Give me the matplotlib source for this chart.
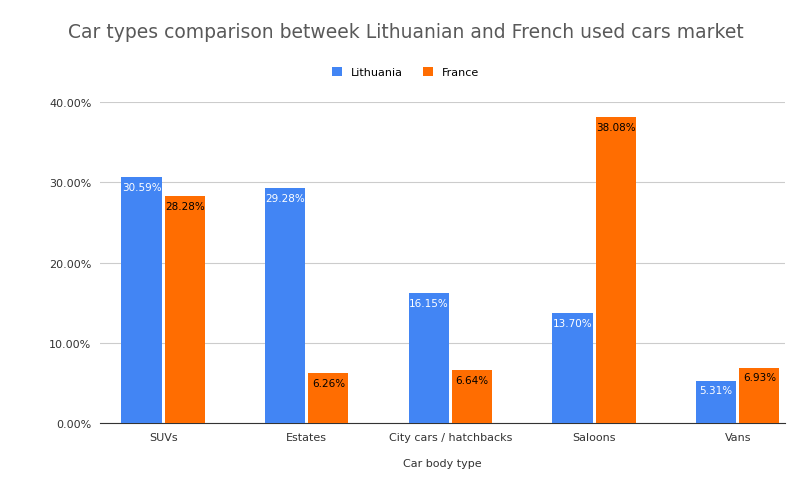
import matplotlib.pyplot as plt
import numpy as np

categories = ["SUVs", "Estates", "City cars / hatchbacks", "Saloons", "Vans"]
lithuania = [30.59, 29.28, 16.15, 13.70, 5.31]
france = [28.28, 6.26, 6.64, 38.08, 6.93]
yticks = [0, 10, 20, 30, 40]

blue = "#4285f4"
orange = "#ff6d01"

fig = plt.figure(figsize=(8.12, 5.02), dpi=100)
ax = fig.add_axes([0.123, 0.155, 0.844, 0.64])

x = np.arange(len(categories))
w = 0.28
gap = 0.01
b1 = ax.bar(x - w / 2 - gap, lithuania, w, color=blue, label="Lithuania", zorder=3)
b2 = ax.bar(x + w / 2 + gap, france, w, color=orange, label="France", zorder=3)

for bar, v in zip(b1, lithuania):
    ax.text(bar.get_x() + bar.get_width() / 2, v - 0.6, f"{v:.2f}%",
            ha="center", va="top", color="white", fontsize=7.5)
for bar, v in zip(b2, france):
    ax.text(bar.get_x() + bar.get_width() / 2, v - 0.6, f"{v:.2f}%",
            ha="center", va="top", color="black", fontsize=7.5)

ax.set_xlim(-0.44, len(categories) - 0.67)
ax.set_ylim(0, 40)
ax.set_yticks(yticks)
ax.set_yticklabels([f"{t:.2f}%" for t in yticks], fontsize=8, color="#333333")
ax.set_xticks(x)
ax.set_xticklabels(categories, fontsize=8, color="#333333")
ax.tick_params(length=0, pad=6)
ax.grid(axis="y", color="#cccccc", linewidth=0.8, zorder=0)
for s in ["top", "right", "left"]:
    ax.spines[s].set_visible(False)
ax.spines["bottom"].set_color("#333333")
ax.set_xlabel("Car body type", fontsize=8, color="#333333", labelpad=12)

fig.suptitle("Car types comparison betweek Lithuanian and French used cars market",
             x=0.5, y=0.955, fontsize=13.5, color="#595959")
fig.legend(loc="center", bbox_to_anchor=(0.5, 0.855), ncol=2, frameon=False,
           fontsize=8, handlelength=0.9, handleheight=0.9, columnspacing=1.8)

fig.savefig("out.png", dpi=100)
